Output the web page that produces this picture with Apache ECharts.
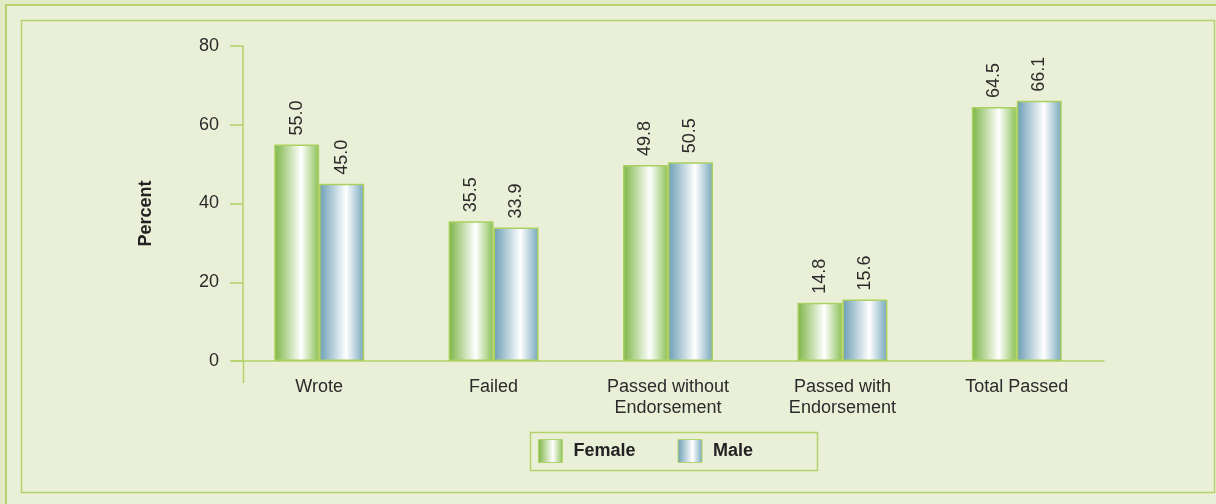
<!DOCTYPE html>
<html>
<head>
<meta charset="utf-8">
<script src="https://cdn.jsdelivr.net/npm/echarts@6/dist/echarts.min.js"></script>
<style>
  html, body { margin: 0; padding: 0; background: #e2eac6; }
  #chart { width: 1216px; height: 504px; }
</style>
</head>
<body>
<div id="chart"></div>
<script>
// data
const categories = ['Wrote', 'Failed', 'Passed without\nEndorsement', 'Passed with\nEndorsement', 'Total Passed']
const female = [55.0, 35.5, 49.8, 14.8, 64.5]
const male = [45.0, 33.9, 50.5, 15.6, 66.1]
const yTicks = [0, 20, 40, 60, 80]

const axisGreen = '#b4d16a'
const font = 'Arial, "Liberation Sans", sans-serif'

// horizontal shading on the bars
function shade(edgeL, edgeR) {
  return {
    type: 'linear', x: 0, y: 0, x2: 1, y2: 0,
    colorStops: [
      { offset: 0, color: edgeL },
      { offset: 0.6, color: '#ffffff' },
      { offset: 1, color: edgeR }
    ]
  }
}
const femaleFill = shade('#7bb444', '#88c055')
const maleFill = shade('#6a9db3', '#74a6bb')

const chart = echarts.init(document.getElementById('chart'))

const barLabel = {
  show: true,
  position: 'top',
  rotate: 90,
  align: 'left',
  verticalAlign: 'middle',
  distance: 9,
  color: '#2b2b2b',
  fontSize: 18,
  fontFamily: font,
  formatter: p => p.value.toFixed(1)
}

chart.setOption({
  animation: false,
  backgroundColor: '#e2eac6',
  graphic: [
    // outer panel
    { type: 'rect', z: -10, shape: { x: 6, y: 5, width: 1230, height: 520 },
      style: { fill: '#eaf0d8', stroke: '#b7d16c', lineWidth: 2 } },
    // inner frame
    { type: 'rect', z: -9, shape: { x: 21.5, y: 20.5, width: 1193, height: 472 },
      style: { fill: '#eaf0d8', stroke: '#b4d16a', lineWidth: 1.5 } },
    // y axis runs a little below zero
    { type: 'line', z: 5, shape: { x1: 243.5, y1: 361, x2: 243.5, y2: 383 },
      style: { stroke: axisGreen, lineWidth: 1.5 } },
    // legend frame
    { type: 'rect', z: 5, shape: { x: 530.5, y: 432.5, width: 287, height: 38 },
      style: { fill: 'none', stroke: axisGreen, lineWidth: 1.5 } }
  ],
  grid: { left: 232, right: 112, top: 46, bottom: 143, containLabel: false },
  legend: {
    data: ['Female', 'Male'],
    icon: 'rect',
    left: 533,
    top: 434,
    itemWidth: 24,
    itemHeight: 23,
    itemGap: 42,
    textStyle: { fontSize: 18, fontWeight: 'bold', color: '#222', fontFamily: font, padding: [0, 0, 0, 6] },
    itemStyle: { borderColor: '#b4d46a', borderWidth: 1 }
  },
  xAxis: {
    type: 'category',
    data: categories,
    axisLine: { lineStyle: { color: axisGreen, width: 1.5 } },
    axisTick: { show: false },
    axisLabel: { color: '#2b2b2b', fontSize: 18, fontFamily: font, margin: 16, lineHeight: 21, interval: 0 }
  },
  yAxis: {
    type: 'value',
    min: yTicks[0],
    max: yTicks[yTicks.length - 1],
    interval: 20,
    offset: -11,
    name: 'Percent',
    nameLocation: 'middle',
    nameGap: 88,
    nameRotate: 90,
    nameTextStyle: { fontSize: 18, fontWeight: 'bold', color: '#222', fontFamily: font, padding: [0, 20, 0, 0] },
    splitLine: { show: false },
    axisLine: { show: true, lineStyle: { color: axisGreen, width: 1.5 } },
    axisTick: { show: true, length: 13, lineStyle: { color: axisGreen, width: 1.5 } },
    axisLabel: { color: '#2b2b2b', fontSize: 18, fontFamily: font, margin: 24 }
  },
  series: [
    {
      name: 'Female',
      type: 'bar',
      data: female,
      barWidth: 45,
      barGap: '0%',
      itemStyle: { color: femaleFill, borderColor: '#acd05f', borderWidth: 1.5 },
      label: barLabel
    },
    {
      name: 'Male',
      type: 'bar',
      data: male,
      barWidth: 45,
      barGap: '0%',
      itemStyle: { color: maleFill, borderColor: '#acd05f', borderWidth: 1.5 },
      label: barLabel
    }
  ]
})
</script>
</body>
</html>
